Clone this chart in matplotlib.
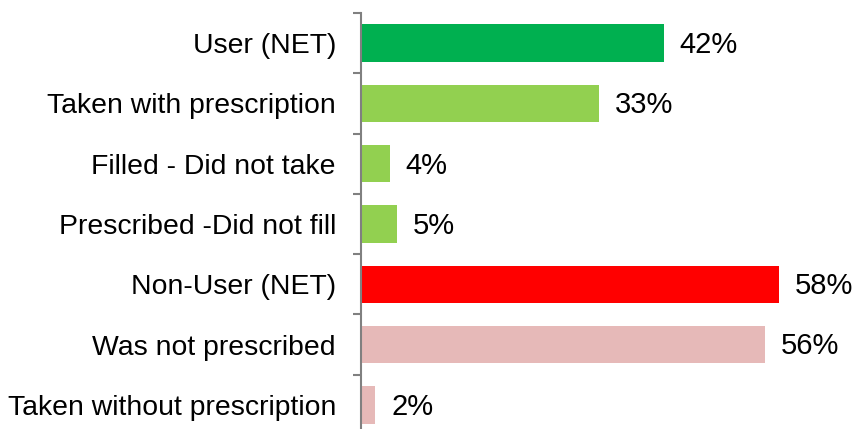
import numpy as np
import matplotlib.pyplot as plt

plt.rcParams['font.family'] = ['Liberation Sans', 'DejaVu Sans']

categories = ['User (NET)', 'Taken with prescription', 'Filled - Did not take',
              'Prescribed -Did not fill', 'Non-User (NET)', 'Was not prescribed',
              'Taken without prescription']
values = [42, 33, 4, 5, 58, 56, 2]
colors = ['#00B050', '#92D050', '#92D050', '#92D050', '#FF0000', '#E6B9B8', '#E6B9B8']

fig = plt.figure(figsize=(8.54, 4.29), dpi=100)
ax = fig.add_axes([0.4227, -0.014, 0.574, 0.9837])

y = np.arange(len(categories))
ax.barh(y, values, height=0.62, color=colors)
ax.set_ylim(len(categories) - 0.5, -0.5)
ax.set_xlim(0, 68)

for yi, v in zip(y, values):
    ax.text(v + 2.2, yi + 0.03, f'{v}%', va='center', ha='left', fontsize=21)

ax.set_yticks(y)
ax.set_yticklabels(categories, fontsize=20.4)
ax.tick_params(axis='y', which='major', length=0, pad=18)
ax.set_yticks(np.arange(-0.5, len(categories), 1), minor=True)
ax.tick_params(axis='y', which='minor', length=5.5, width=1.5, color='#808080')
ax.set_xticks([])

for s in ['top', 'right', 'bottom']:
    ax.spines[s].set_visible(False)
ax.spines['left'].set_color('#808080')
ax.spines['left'].set_linewidth(1.5)

fig.savefig('out.png', dpi=100)
